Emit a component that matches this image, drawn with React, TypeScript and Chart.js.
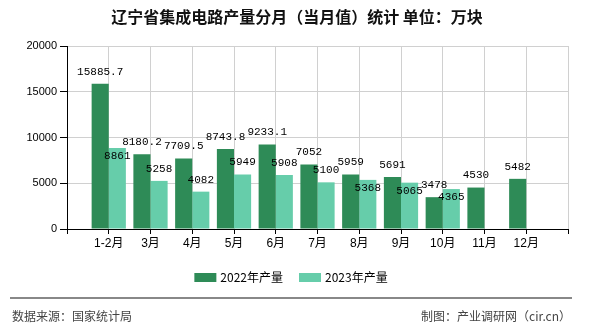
import React, { useEffect, useRef } from "react";
import { Chart, registerables } from "chart.js";

Chart.register(...registerables);

const title = "辽宁省集成电路产量分月（当月值）统计 单位：万块";
const categories = ["1-2月", "3月", "4月", "5月", "6月", "7月", "8月", "9月", "10月", "11月", "12月"];
const series2022 = [15885.7, 8180.2, 7709.5, 8743.8, 9233.1, 7052, 5959, 5691, 3478, 4530, 5482];
const series2023: (number | null)[] = [8861, 5258, 4082, 5949, 5908, 5100, 5368, 5065, 4365, null, null];
const seriesNames = ["2022年产量", "2023年产量"];
const seriesColors = ["#2e8b57", "#66cdaa"];
const yTicks = { min: 0, max: 20000, step: 5000 };
const sourceText = "数据来源：国家统计局";
const creditText = "制图：产业调研网（cir.cn）";

const CJK = '"Noto Sans CJK SC", "Liberation Sans", sans-serif';

export default function App() {
  const ref = useRef<HTMLCanvasElement | null>(null);

  useEffect(() => {
    if (!ref.current) return;
    const labels = ["", ...categories, ""];
    const d2022 = [null, ...series2022, null];
    const d2023 = [null, ...series2023, null];

    const decor = {
      id: "decor",
      beforeDraw(chart: any) {
        const ctx = chart.ctx;
        ctx.save();
        ctx.fillStyle = "#fff";
        ctx.fillRect(0, 0, chart.width, chart.height);
        ctx.restore();
      },
      afterDraw(chart: any) {
        const ctx = chart.ctx;
        ctx.save();
        // title
        ctx.fillStyle = "#111";
        ctx.font = `bold 16px ${CJK}`;
        ctx.textAlign = "center";
        ctx.textBaseline = "middle";
        ctx.fillText(title, 297, 17);

        // legend
        ctx.font = `12px ${CJK}`;
        const boxW = 22, boxH = 9, gapT = 4, gapItem = 16;
        const widths = seriesNames.map((n) => boxW + gapT + ctx.measureText(n).width);
        const total = widths.reduce((a, b) => a + b, 0) + gapItem * (widths.length - 1);
        let x = 291 - total / 2;
        const ly = 277.5;
        seriesNames.forEach((n, i) => {
          ctx.fillStyle = seriesColors[i];
          ctx.fillRect(x, ly - boxH / 2, boxW, boxH);
          ctx.fillStyle = "#000";
          ctx.textAlign = "left";
          ctx.fillText(n, x + boxW + gapT, ly);
          x += widths[i] + gapItem;
        });

        // separator
        ctx.fillStyle = "#888";
        ctx.fillRect(10, 297, 562, 2);

        // footer
        ctx.fillStyle = "#444";
        ctx.font = `12px ${CJK}`;
        ctx.textAlign = "left";
        ctx.fillText(sourceText, 12, 316);
        ctx.textAlign = "right";
        ctx.fillText(creditText, 571, 316);
        ctx.restore();
      },
      afterDatasetsDraw(chart: any) {
        const ctx = chart.ctx;
        ctx.save();
        ctx.font = '11px "Liberation Mono", monospace';
        ctx.textAlign = "center";
        ctx.textBaseline = "middle";
        ctx.fillStyle = "#000";
        const placed: { x: number; y: number; w: number }[] = [];
        const h = 12;
        chart.data.datasets.forEach((ds: any, di: number) => {
          const meta = chart.getDatasetMeta(di);
          meta.data.forEach((bar: any, i: number) => {
            const v = ds.data[i];
            if (v == null) return;
            const text = String(v);
            const w = ctx.measureText(text).width;
            let cy = bar.y - 12;
            const hit = placed.some(
              (r) => Math.abs(r.x - bar.x) < (r.w + w) / 2 - 2 && Math.abs(r.y - cy) < h
            );
            if (hit) cy = bar.y + 8;
            placed.push({ x: bar.x, y: cy, w });
            ctx.fillText(text, bar.x, cy);
          });
        });
        ctx.restore();
      },
    };

    const chart = new Chart(ref.current, {
      type: "bar",
      data: {
        labels,
        datasets: [
          { label: seriesNames[0], data: d2022, backgroundColor: seriesColors[0], categoryPercentage: 0.82, barPercentage: 1 },
          { label: seriesNames[1], data: d2023, backgroundColor: seriesColors[1], categoryPercentage: 0.82, barPercentage: 1 },
        ],
      },
      options: {
        responsive: false,
        animation: false,
        layout: { padding: { top: 46, right: 22, left: 0, bottom: 0 } },
        plugins: { legend: { display: false }, tooltip: { enabled: false }, title: { display: false } },
        scales: {
          x: {
            offset: false,
            grid: { offset: false, color: "#d0d0d0", tickColor: "#000", tickLength: 5, lineWidth: 1 },
            border: { color: "#000", width: 1 },
            ticks: { color: "#000", font: { size: 12, family: '"Liberation Sans", "Noto Sans CJK SC", sans-serif' }, padding: 2, maxRotation: 0, autoSkip: false },
            afterFit: (s: any) => { s.height = 101; },
          },
          y: {
            min: yTicks.min,
            max: yTicks.max,
            grid: { color: "#d0d0d0", tickColor: "#000", tickLength: 7, lineWidth: 1 },
            border: { color: "#000", width: 1 },
            ticks: {
              stepSize: yTicks.step,
              color: "#000",
              font: { size: 11, family: '"Liberation Sans", sans-serif' },
              padding: 3,
              callback: (v: any) => String(v),
            },
            afterFit: (s: any) => { s.width = 67; },
          },
        },
      },
      plugins: [decor],
    });
    return () => chart.destroy();
  }, []);

  return (
    <div style={{ position: "absolute", left: 0, top: 0, width: 590, height: 330 }}>
      <canvas ref={ref} width={590} height={330} style={{ display: "block", width: 590, height: 330 }} />
    </div>
  );
}
